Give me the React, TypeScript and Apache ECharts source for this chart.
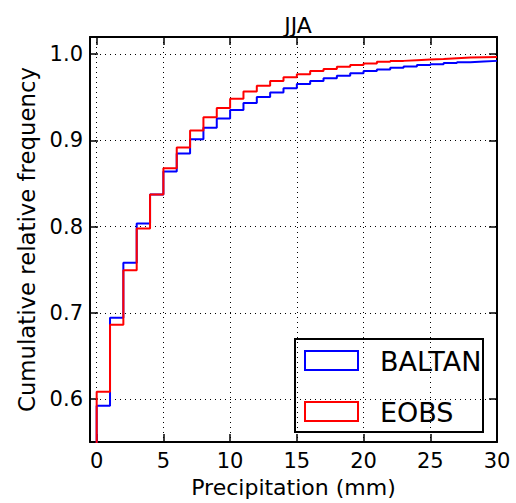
import React, { useEffect, useRef } from "react";
import * as echarts from "echarts";

const binEdges = [0, 1, 2, 3, 4, 5, 6, 7, 8, 9, 10, 11, 12, 13, 14, 15, 16, 17, 18, 19, 20, 21, 22, 23, 24, 25, 26, 27, 28, 29, 30];
const seriesNames = ["BALTAN", "EOBS"];
const seriesColors = ["#0000ff", "#ff0000"];
const baltan = [0.5923, 0.6943, 0.758, 0.8037, 0.8373, 0.864, 0.8848, 0.9013, 0.9147, 0.9254, 0.9354, 0.9434, 0.9503, 0.9556, 0.9606, 0.9656, 0.969, 0.972, 0.975, 0.9778, 0.9805, 0.9824, 0.9843, 0.9858, 0.9874, 0.9885, 0.9897, 0.9908, 0.9916, 0.9923];
const eobs = [0.6084, 0.6862, 0.7494, 0.7979, 0.8373, 0.8676, 0.8917, 0.9116, 0.9269, 0.9377, 0.9483, 0.9567, 0.9633, 0.969, 0.9732, 0.9767, 0.9805, 0.9828, 0.9854, 0.9874, 0.9893, 0.9912, 0.9923, 0.9931, 0.9939, 0.9946, 0.9954, 0.9962, 0.9966, 0.9969];
const xRange = [-0.5, 30];
const yRange = [0.55, 1.02];
const titleText = "JJA";
const xName = "Precipitation (mm)";
const yName = "Cumulative relative frequency";

const FONT = "DejaVu Sans";

function stepData(vals: number[]) {
  const d: number[][] = [[binEdges[0], 0]];
  for (let i = 0; i < vals.length; i++) d.push([binEdges[i], vals[i]]);
  d.push([binEdges[binEdges.length - 1], vals[vals.length - 1]]);
  return d;
}

export default function App() {
  const ref = useRef<HTMLDivElement>(null);
  useEffect(() => {
    document.body.style.margin = "0";
    const chart = echarts.init(ref.current!, null, { renderer: "svg" });
    const axisLine = { show: true, onZero: false, lineStyle: { color: "#000", width: 2 } };
    const tick = { show: true, inside: true, length: 8, lineStyle: { color: "#000", width: 1.5 } };
    const grid = { show: true, showMinLine: false, showMaxLine: false, lineStyle: { color: "#000", width: 1, type: [1, 4] } };
    const isTenth = (v: number) => Math.abs(v * 10 - Math.round(v * 10)) < 1e-6;
    const isInt = (v: number) => Math.abs(v - Math.round(v)) < 1e-6;
    const lx = 295, ly = 339, lw = 188, lh = 93;
    chart.setOption({
      animation: false,
      title: {
        text: titleText,
        left: 293,
        top: 9,
        textAlign: "center",
        textStyle: { fontFamily: FONT, fontSize: 22, fontWeight: "normal", color: "#000" },
      },
      grid: { left: 90, right: 19, top: 37, bottom: 58 },
      xAxis: [
        {
          type: "value",
          min: xRange[0],
          max: xRange[1],
          position: "bottom",
          axisLine,
          axisTick: tick,
          splitLine: grid,
          axisLabel: {
            color: "#000",
            fontFamily: FONT,
            fontSize: 21,
            margin: 8,
            formatter: (v: number) => (isInt(v) ? String(v) : ""),
          },
          name: xName,
          nameLocation: "middle",
          nameGap: 32,
          nameTextStyle: { color: "#000", fontFamily: FONT, fontSize: 22 },
        },
        {
          type: "value",
          min: xRange[0],
          max: xRange[1],
          position: "top",
          axisLine,
          axisTick: tick,
          splitLine: { show: false },
          axisLabel: { show: false },
        },
      ],
      yAxis: [
        {
          type: "value",
          min: yRange[0],
          max: yRange[1],
          position: "left",
          axisLine,
          axisTick: tick,
          splitLine: grid,
          axisLabel: {
            color: "#000",
            fontFamily: FONT,
            fontSize: 21,
            margin: 7,
            formatter: (v: number) => (isTenth(v) ? v.toFixed(1) : ""),
          },
          name: yName,
          nameLocation: "middle",
          nameGap: 52,
          nameTextStyle: { color: "#000", fontFamily: FONT, fontSize: 22.8 },
        },
        {
          type: "value",
          min: yRange[0],
          max: yRange[1],
          position: "right",
          axisLine,
          axisTick: tick,
          splitLine: { show: false },
          axisLabel: { show: false },
        },
      ],
      series: [baltan, eobs].map((vals, i) => ({
        type: "line",
        name: seriesNames[i],
        xAxisIndex: 0,
        yAxisIndex: 0,
        step: "end",
        showSymbol: false,
        symbol: "none",
        clip: true,
        data: stepData(vals),
        lineStyle: { color: seriesColors[i], width: 2 },
        itemStyle: { color: seriesColors[i] },
      })),
      graphic: [
        {
          type: "group",
          z: 100,
          children: [
            {
              type: "rect",
              shape: { x: lx, y: ly, width: lw, height: lh },
              style: { fill: "#fff", stroke: "#000", lineWidth: 2 },
            },
            ...seriesNames.flatMap((n, i) => [
              {
                type: "rect",
                shape: { x: 305, y: 351 + i * 51, width: 53, height: 19 },
                style: { fill: "none", stroke: seriesColors[i], lineWidth: 2 },
              },
              {
                type: "text",
                x: 380,
                y: 361 + i * 51,
                style: {
                  text: n,
                  fontFamily: FONT,
                  fontSize: 27,
                  fill: "#000",
                  verticalAlign: "middle",
                  align: "left",
                },
              },
            ]),
          ],
        },
      ],
    });
    return () => chart.dispose();
  }, []);
  return <div ref={ref} style={{ width: 516, height: 503 }} />;
}
